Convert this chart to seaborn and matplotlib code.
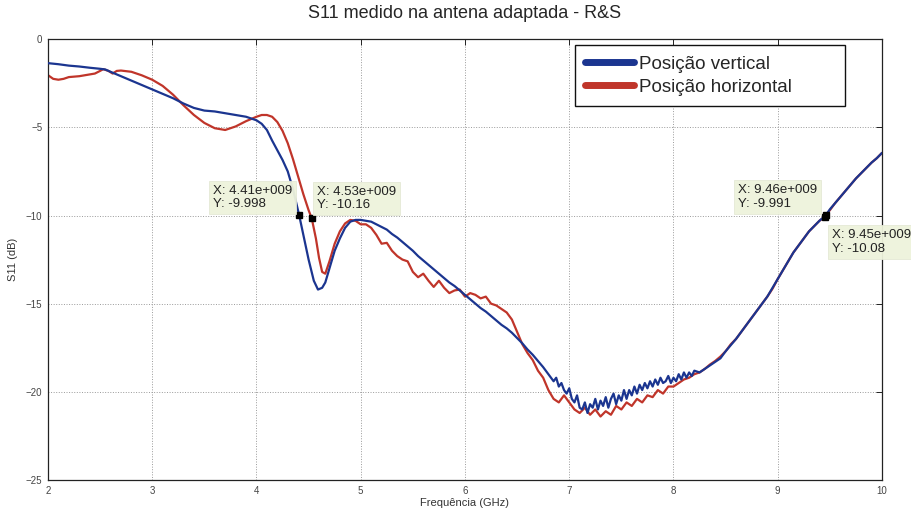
import numpy as np
import pandas as pd
import matplotlib
matplotlib.use("Agg")
import matplotlib.pyplot as plt
import seaborn as sns

# Measured S11 (dB) versus frequency (GHz), vertical antenna position
freq_v = [2.0, 2.1, 2.2, 2.3, 2.4, 2.5, 2.55, 2.6, 2.7, 2.8, 2.9, 3.0, 3.1, 3.2, 3.3,
          3.4, 3.5, 3.6, 3.7, 3.8, 3.9, 4.0, 4.05, 4.1, 4.15, 4.2, 4.25, 4.3, 4.35, 4.41,
          4.45, 4.5, 4.55, 4.59, 4.63, 4.66, 4.7, 4.75, 4.8, 4.85, 4.9, 4.95, 5.0, 5.05,
          5.1, 5.15, 5.2, 5.25, 5.3, 5.35, 5.4, 5.45, 5.5, 5.55, 5.6, 5.65, 5.7, 5.75,
          5.8, 5.85, 5.9, 5.95, 6.0, 6.05, 6.1, 6.15, 6.2, 6.25, 6.3, 6.35, 6.4, 6.45,
          6.5, 6.55, 6.6, 6.65, 6.7, 6.75, 6.8, 6.85, 6.875, 6.9, 6.925, 6.95, 6.975,
          7.0, 7.025, 7.05, 7.075, 7.1, 7.125, 7.15, 7.175, 7.2, 7.225, 7.25, 7.275,
          7.3, 7.325, 7.35, 7.375, 7.4, 7.425, 7.45, 7.475, 7.5, 7.525, 7.55, 7.575,
          7.6, 7.625, 7.65, 7.675, 7.7, 7.725, 7.75, 7.775, 7.8, 7.825, 7.85, 7.875,
          7.9, 7.925, 7.95, 7.975, 8.0, 8.025, 8.05, 8.075, 8.1, 8.125, 8.15, 8.175,
          8.2, 8.25, 8.3, 8.35, 8.4, 8.45, 8.5, 8.55, 8.6, 8.65, 8.7, 8.75, 8.8, 8.85,
          8.9, 8.95, 9.0, 9.05, 9.1, 9.15, 9.2, 9.25, 9.3, 9.35, 9.4, 9.46, 9.5, 9.55,
          9.6, 9.65, 9.7, 9.75, 9.8, 9.85, 9.9, 9.95, 10.0]
s11_v = [-1.36, -1.42, -1.5, -1.55, -1.62, -1.68, -1.72, -1.85, -2.1, -2.35, -2.6,
         -2.85, -3.1, -3.35, -3.65, -3.9, -4.05, -4.1, -4.2, -4.3, -4.4, -4.6, -4.8,
         -5.15, -5.75, -6.3, -6.85, -7.5, -8.5, -9.998, -11.1, -12.5, -13.7, -14.2, -14.1,
         -13.8, -13.0, -12.0, -11.3, -10.7, -10.35, -10.25, -10.25, -10.3, -10.35,
         -10.5, -10.65, -10.8, -11.05, -11.25, -11.5, -11.75, -12.0, -12.3, -12.55,
         -12.8, -13.05, -13.3, -13.55, -13.8, -14.0, -14.25, -14.5, -14.75, -15.0,
         -15.25, -15.45, -15.7, -15.95, -16.2, -16.4, -16.65, -16.95, -17.25, -17.6,
         -17.9, -18.25, -18.6, -19.0, -19.4, -19.2, -19.7, -19.5, -19.9, -20.1, -19.8,
         -20.4, -20.6, -20.2, -20.9, -21.0, -20.6, -21.2, -20.7, -20.9, -20.4, -21.0,
         -20.5, -20.8, -20.3, -20.9, -20.4, -20.1, -20.7, -20.2, -20.5, -19.9, -20.4,
         -19.9, -20.2, -19.7, -20.1, -19.6, -19.9, -19.5, -19.8, -19.4, -19.7, -19.3,
         -19.6, -19.2, -19.5, -19.4, -19.1, -19.5, -19.2, -19.4, -19.0, -19.3, -18.9,
         -19.2, -18.9, -19.1, -18.8, -18.9, -18.7, -18.5, -18.3, -18.1, -17.7, -17.35,
         -17.0, -16.6, -16.2, -15.8, -15.4, -15.0, -14.6, -14.1, -13.6, -13.1, -12.6,
         -12.1, -11.7, -11.3, -10.9, -10.6, -10.3, -9.991, -9.65, -9.3, -8.95, -8.6,
         -8.25, -7.9, -7.6, -7.3, -7.0, -6.75, -6.45]

# Measured S11 (dB) versus frequency (GHz), horizontal antenna position
freq_h = [2.0, 2.05, 2.1, 2.15, 2.2, 2.3, 2.4, 2.45, 2.5, 2.53, 2.58, 2.62, 2.66, 2.7,
          2.8, 2.9, 3.0, 3.1, 3.2, 3.3, 3.4, 3.5, 3.6, 3.7, 3.8, 3.9, 4.0, 4.05, 4.1,
          4.15, 4.2, 4.25, 4.3, 4.35, 4.4, 4.45, 4.5, 4.53, 4.57, 4.6, 4.63, 4.66, 4.7,
          4.75, 4.8, 4.85, 4.9, 4.95, 5.0, 5.05, 5.1, 5.15, 5.2, 5.25, 5.3, 5.35, 5.4,
          5.45, 5.5, 5.55, 5.6, 5.65, 5.7, 5.75, 5.8, 5.85, 5.9, 5.95, 6.0, 6.05, 6.1,
          6.15, 6.2, 6.25, 6.3, 6.35, 6.4, 6.45, 6.5, 6.55, 6.6, 6.65, 6.7, 6.75, 6.8,
          6.85, 6.9, 6.95, 7.0, 7.05, 7.1, 7.15, 7.2, 7.25, 7.3, 7.35, 7.4, 7.45, 7.5,
          7.55, 7.6, 7.65, 7.7, 7.75, 7.8, 7.85, 7.9, 7.95, 8.0, 8.05, 8.1, 8.15, 8.2,
          8.25, 8.3, 8.35, 8.4, 8.45, 8.5, 8.55, 8.6, 8.65, 8.7, 8.75, 8.8, 8.85, 8.9,
          8.95, 9.0, 9.05, 9.1, 9.15, 9.2, 9.25, 9.3, 9.35, 9.4, 9.45, 9.5, 9.55, 9.6,
          9.65, 9.7, 9.75, 9.8, 9.85, 9.9, 9.95, 10.0]
s11_h = [-2.04, -2.25, -2.3, -2.25, -2.15, -2.1, -2.0, -1.95, -1.8, -1.7, -1.8, -1.95,
         -1.8, -1.78, -1.85, -2.05, -2.3, -2.65, -3.15, -3.75, -4.3, -4.75, -5.05,
         -5.15, -4.95, -4.65, -4.4, -4.3, -4.3, -4.4, -4.7, -5.2, -5.9, -6.8, -7.8,
         -8.8, -9.7, -10.16, -11.3, -12.4, -13.2, -13.3, -12.6, -11.6, -10.9, -10.45,
         -10.25, -10.3, -10.5, -10.5, -10.7, -11.1, -11.6, -11.55, -12.0, -12.3, -12.5,
         -12.6, -13.2, -13.5, -13.3, -13.7, -14.05, -13.7, -14.1, -14.4, -14.25, -14.2,
         -14.6, -14.4, -14.5, -14.7, -14.6, -15.0, -15.1, -15.3, -15.5, -15.9, -16.6,
         -17.3, -17.8, -18.2, -18.8, -19.2, -19.9, -20.4, -20.6, -20.2, -20.6, -21.0,
         -21.2, -20.9, -21.3, -21.0, -21.4, -21.1, -21.3, -20.8, -21.0, -20.6, -20.8,
         -20.4, -20.6, -20.2, -20.3, -19.9, -20.1, -19.7, -19.7, -19.5, -19.3, -19.2,
         -19.0, -18.9, -18.7, -18.45, -18.25, -18.0, -17.7, -17.3, -17.0, -16.6, -16.2,
         -15.8, -15.4, -15.0, -14.6, -14.15, -13.6, -13.1, -12.6, -12.1, -11.7, -11.3,
         -10.9, -10.6, -10.3, -10.08, -9.7, -9.3, -8.95, -8.6, -8.25, -7.9, -7.6, -7.3,
         -7.0, -6.75, -6.45]

label_v = "Posição vertical"
label_h = "Posição horizontal"

# Data-tip readouts: (frequency in GHz, S11 in dB, offset in points, h-align, v-align)
tips = [
    (4.41, -9.998, (-5, 4), "right", "bottom"),
    (4.53, -10.16, (4, 5), "left", "bottom"),
    (9.46, -9.991, (-6, 4), "right", "bottom"),
    (9.45, -10.08, (5, -9), "left", "top"),
]

df = pd.concat([
    pd.DataFrame({"freq": freq_v, "s11": s11_v, "serie": label_v}),
    pd.DataFrame({"freq": freq_h, "s11": s11_h, "serie": label_h}),
], ignore_index=True)

sns.set_style("white")
plt.rcParams["font.family"] = ["Liberation Sans", "DejaVu Sans"]

fig = plt.figure(figsize=(9.12, 5.12), dpi=100)
ax = fig.add_axes([0.0526, 0.0625, 0.9145, 0.861])

colors = {label_v: "#1b3590", label_h: "#c0352a"}
sns.lineplot(data=df, x="freq", y="s11", hue="serie", hue_order=[label_v, label_h],
             palette=colors, sort=False, estimator=None, linewidth=1.6, ax=ax,
             legend=True)
ax.lines[0].set_zorder(3)
ax.lines[1].set_zorder(2)

ax.set_xlim(2, 10)
ax.set_ylim(-25, 0)
ax.set_xticks(range(2, 11))
ax.set_yticks(range(-25, 1, 5))
ax.grid(True, linestyle=":", color="#9a9a9a", linewidth=0.7)
ax.tick_params(direction="in", length=4, width=0.7, top=True, right=True,
               labelsize=7, colors="#222222", labelcolor="#444444", pad=4)
for sp in ax.spines.values():
    sp.set_color("#222222")
    sp.set_linewidth(0.9)

ax.set_title("S11 medido na antena adaptada - R&S", fontsize=13, pad=15)
ax.set_xlabel("Frequência (GHz)", fontsize=8, labelpad=2, color="#333333")
ax.set_ylabel("S11 (dB)", fontsize=8, labelpad=6, color="#333333")

# Legend box stretched to a fixed width, as in the instrument software
handles, labels = ax.get_legend_handles_labels()
leg = ax.legend(handles, labels, loc="upper left",
                bbox_to_anchor=(0.632, 0.5, 0.324, 0.486), mode="expand",
                borderaxespad=0, fancybox=False, framealpha=1, edgecolor="#111111",
                fontsize=13.5, handlelength=2.6, handletextpad=0.25, borderpad=0.55,
                labelspacing=0.3)
leg.get_frame().set_linewidth(1.0)
for ln in leg.get_lines():
    ln.set_linewidth(5)
    ln.set_solid_capstyle("round")

for fx, fy, off, ha, va in tips:
    ax.plot([fx], [fy], marker="s", markersize=5, color="black", zorder=6)
    ax.annotate(f"X: {fx:.2f}e+009\nY: {fy:.4g}", xy=(fx, fy), xytext=off,
                textcoords="offset points", ha=ha, va=va, multialignment="left",
                fontsize=9.5, color="#222222", linespacing=1.15, zorder=7,
                annotation_clip=False,
                bbox=dict(boxstyle="square,pad=0.3", fc="#eef3dc", ec="#e4e8d4",
                          lw=0.6, alpha=0.95))

fig.savefig("out.png", dpi=100)
